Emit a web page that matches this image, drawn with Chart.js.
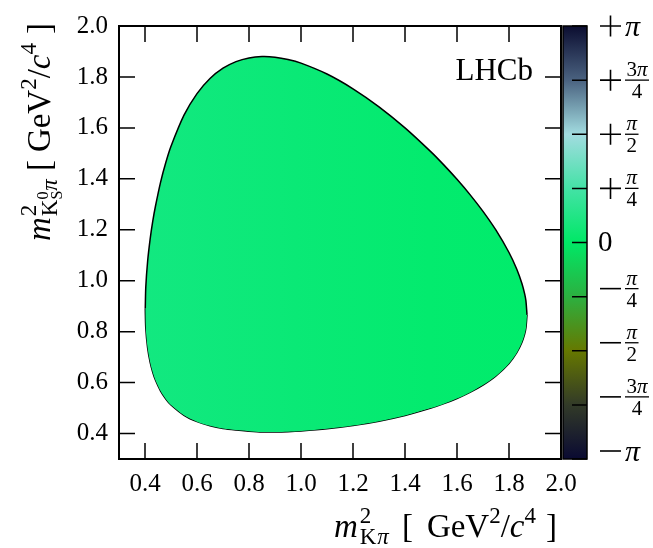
<!DOCTYPE html>
<html>
<head>
<meta charset="utf-8">
<script src="https://cdn.jsdelivr.net/npm/chart.js@4.4.1/dist/chart.umd.min.js"></script>
<style>
  body { margin: 0; background: #fff; }
</style>
</head>
<body>
<canvas id="dalitz" width="653" height="548"></canvas>
<script>
// Dalitz boundary: m2(Kpi) and the upper / lower edge in m2(KSpi)
const mKpi  = [0.4010, 0.4030, 0.4100, 0.4200, 0.4300, 0.4400, 0.4600, 0.4800, 0.5000, 0.5500, 0.6000, 0.6500, 0.7000, 0.7500,
               0.8000, 0.8500, 0.9000, 0.9500, 1.0000, 1.1000, 1.2000, 1.3000, 1.4000, 1.5000, 1.5500, 1.6000, 1.6500,
               1.7000, 1.7500, 1.8000, 1.8300, 1.8500, 1.8600, 1.8650, 1.8693];
const upper = [0.8906, 0.9746, 1.0755, 1.1655, 1.2346, 1.2914, 1.3872, 1.4639, 1.5279, 1.6499, 1.7346, 1.7938, 1.8342, 1.8602,
               1.8747, 1.8800, 1.8776, 1.8687, 1.8543, 1.8116, 1.7536, 1.6827, 1.6001, 1.5058, 1.4538, 1.3981, 1.3380,
               1.2722, 1.1983, 1.1107, 1.0451, 0.9882, 0.9491, 0.9217, 0.8658];
const lower = [0.8906, 0.8136, 0.7364, 0.6784, 0.6395, 0.6100, 0.5666, 0.5356, 0.5120, 0.4717, 0.4467, 0.4304, 0.4196, 0.4135,
               0.4093, 0.4063, 0.4061, 0.4073, 0.4099, 0.4184, 0.4313, 0.4486, 0.4710, 0.4998, 0.5173, 0.5376, 0.5615,
               0.5902, 0.6263, 0.6754, 0.7176, 0.7588, 0.7899, 0.8134, 0.8658];

const xTicks = [0.4, 0.6, 0.8, 1.0, 1.2, 1.4, 1.6, 1.8, 2.0];
const yTicks = [0.4, 0.6, 0.8, 1.0, 1.2, 1.4, 1.6, 1.8, 2.0];

// colour bar: phase in radians
const cbTicks  = [Math.PI, 3 * Math.PI / 4, Math.PI / 2, Math.PI / 4, 0, -Math.PI / 4, -Math.PI / 2, -3 * Math.PI / 4, -Math.PI];
const cbLabels = ['+π', '+3π/4', '+π/2', '+π/4', '0', '−π/4', '−π/2', '−3π/4', '−π'];

const SERIF = '"Liberation Serif", "DejaVu Serif", serif';

function toPoints(ys) {
    return mKpi.map((x, i) => ({ x: x, y: ys[i] }));
}

// draw a run of text pieces (for the little bits of math in the labels)
function runsWidth(ctx, runs) {
    let w = 0;
    runs.forEach(r => {
        ctx.font = r.f;
        if (r.adv !== false) w += ctx.measureText(r.t).width + (r.gap || 0);
    });
    return w;
}
function drawRuns(ctx, runs, x, y) {
    let cx = x;
    runs.forEach(r => {
        ctx.font = r.f;
        ctx.fillText(r.t, cx, y + (r.dy || 0));
        if (r.adv !== false) cx += ctx.measureText(r.t).width + (r.gap || 0);
    });
}

const T = 33, S = 23, S2 = 16, F = 21;
const xTitle = [
    { t: 'm', f: `italic ${T}px ${SERIF}`, gap: 2 },
    { t: '2', f: `${S}px ${SERIF}`, dy: -14, adv: false },
    { t: 'K', f: `${S}px ${SERIF}`, dy: 7, gap: 1 },
    { t: 'π', f: `italic ${S}px ${SERIF}`, dy: 7, gap: 13 },
    { t: '[', f: `${T}px ${SERIF}`, gap: 14 },
    { t: 'GeV', f: `${T}px ${SERIF}` },
    { t: '2', f: `${S}px ${SERIF}`, dy: -14 },
    { t: '/', f: `${T}px ${SERIF}` },
    { t: 'c', f: `italic ${T}px ${SERIF}` },
    { t: '4', f: `${S}px ${SERIF}`, dy: -14, gap: 10 },
    { t: ']', f: `${T}px ${SERIF}` }
];
const yTitle = [
    { t: 'm', f: `italic ${T}px ${SERIF}`, gap: 1 },
    { t: '2', f: `${S}px ${SERIF}`, dy: -14, adv: false },
    { t: 'K', f: `${S}px ${SERIF}`, dy: 7 },
    { t: '0', f: `${S2}px ${SERIF}`, dy: -2, adv: false },
    { t: 'S', f: `${S2}px ${SERIF}`, dy: 12 },
    { t: 'π', f: `italic ${S}px ${SERIF}`, dy: 7, gap: 8 },
    { t: '[', f: `${T}px ${SERIF}`, gap: 8 },
    { t: 'GeV', f: `${T}px ${SERIF}` },
    { t: '2', f: `${S}px ${SERIF}`, dy: -14 },
    { t: '/', f: `${T}px ${SERIF}` },
    { t: 'c', f: `italic ${T}px ${SERIF}` },
    { t: '4', f: `${S}px ${SERIF}`, dy: -14, gap: 9 },
    { t: ']', f: `${T}px ${SERIF}` }
];

function drawCbLabel(ctx, label, x, y) {
    let sign = '';
    let body = label;
    if (label[0] === '+' || label[0] === '−') {
        sign = label[0];
        body = label.slice(1);
    }
    if (sign === '−') y -= 8;
    ctx.fillStyle = '#000';
    ctx.strokeStyle = '#000';
    ctx.lineWidth = 1.6;
    if (sign) {
        ctx.beginPath();
        ctx.moveTo(x + 2, y); ctx.lineTo(x + 23, y);
        if (sign === '+') { ctx.moveTo(x + 12.5, y - 10.5); ctx.lineTo(x + 12.5, y + 10.5); }
        ctx.stroke();
    }
    const bx = x + 27;
    if (body.indexOf('/') >= 0) {
        const parts = body.split('/');
        const numRuns = parts[0].split('').map(ch => ({ t: ch, f: ch === 'π' ? `italic ${F}px ${SERIF}` : `${F}px ${SERIF}` }));
        const nw = runsWidth(ctx, numRuns);
        ctx.font = `${F}px ${SERIF}`;
        const dw = ctx.measureText(parts[1]).width;
        const w = Math.max(nw, dw) + 3;
        ctx.beginPath();
        ctx.lineWidth = 1.3;
        ctx.moveTo(bx, y); ctx.lineTo(bx + w, y);
        ctx.stroke();
        ctx.textBaseline = 'alphabetic';
        drawRuns(ctx, numRuns, bx + (w - nw) / 2, y - 4);
        ctx.font = `${F}px ${SERIF}`;
        ctx.fillText(parts[1], bx + (w - dw) / 2, y + 18);
    } else if (body === 'π') {
        ctx.font = `italic 30px ${SERIF}`;
        ctx.textBaseline = 'middle';
        ctx.fillText('π', bx, y + 2);
    } else {
        ctx.font = `29px ${SERIF}`;
        ctx.textBaseline = 'middle';
        ctx.fillText(body, x, y + 1);
    }
}

const decorations = {
    id: 'decorations',
    afterDraw(chart) {
        const ctx = chart.ctx;
        const a = chart.chartArea;
        const sx = chart.scales.x, sy = chart.scales.y, cb = chart.scales.cb;
        ctx.save();

        // frame and inward ticks
        ctx.strokeStyle = '#000';
        ctx.lineWidth = 2;
        ctx.strokeRect(a.left, a.top, a.right - a.left, a.bottom - a.top);
        ctx.lineWidth = 1.5;
        ctx.beginPath();
        xTicks.forEach(v => {
            const px = sx.getPixelForValue(v);
            ctx.moveTo(px, a.bottom); ctx.lineTo(px, a.bottom - 16);
            ctx.moveTo(px, a.top); ctx.lineTo(px, a.top + 16);
        });
        yTicks.forEach(v => {
            const py = sy.getPixelForValue(v);
            ctx.moveTo(a.left, py); ctx.lineTo(a.left + 16, py);
            ctx.moveTo(a.right, py); ctx.lineTo(a.right - 16, py);
        });
        ctx.stroke();

        // colour bar
        const x0 = cb.left + 2, x1 = cb.right;
        const g = ctx.createLinearGradient(0, cb.top, 0, cb.bottom);
        g.addColorStop(0.000, '#0b0d30');
        g.addColorStop(0.125, '#4a6280');
        g.addColorStop(0.250, '#a2dce0');
        g.addColorStop(0.375, '#44e2a6');
        g.addColorStop(0.500, '#00e866');
        g.addColorStop(0.625, '#2cb040');
        g.addColorStop(0.750, '#667800');
        g.addColorStop(0.875, '#323a28');
        g.addColorStop(1.000, '#0a0a32');
        ctx.fillStyle = g;
        ctx.fillRect(x0, cb.top, x1 - x0, cb.bottom - cb.top);
        ctx.lineWidth = 1.5;
        ctx.strokeRect(x0, cb.top, x1 - x0, cb.bottom - cb.top);
        ctx.beginPath();
        cbTicks.forEach(v => {
            const py = cb.getPixelForValue(v);
            ctx.moveTo(x1, py); ctx.lineTo(x1 - 15, py);
        });
        ctx.stroke();
        cbTicks.forEach((v, i) => {
            drawCbLabel(ctx, cbLabels[i], x1 + 11, cb.getPixelForValue(v));
        });

        // experiment label
        ctx.fillStyle = '#000';
        ctx.font = `31px ${SERIF}`;
        ctx.textAlign = 'right';
        ctx.textBaseline = 'alphabetic';
        ctx.fillText('LHCb', a.right - 28, a.top + 54);
        ctx.textAlign = 'left';

        // axis titles, right-aligned like the original
        const xw = runsWidth(ctx, xTitle);
        drawRuns(ctx, xTitle, a.right - 4 - xw, 537);

        const yw = runsWidth(ctx, yTitle);
        ctx.translate(50, a.top - 3);
        ctx.rotate(-Math.PI / 2);
        drawRuns(ctx, yTitle, -yw, 0);

        ctx.restore();
    }
};

new Chart(
    document.getElementById('dalitz'),
    {
        type: 'line',
        data: {
            datasets: [
                {
                    label: 'upper',
                    data: toPoints(upper),
                    borderColor: '#000',
                    borderWidth: 1.5,
                    pointRadius: 0,
                    tension: 0.3,
                    fill: '+1',
                    backgroundColor: (c) => {
                        const area = c.chart.chartArea;
                        if (!area) return '#08e874';
                        const g = c.chart.ctx.createLinearGradient(area.left, 0, area.right, 0);
                        g.addColorStop(0.0, '#14e882');
                        g.addColorStop(0.4, '#0ae976');
                        g.addColorStop(0.7, '#03eb6e');
                        g.addColorStop(1.0, '#00ec6a');
                        return g;
                    }
                },
                {
                    label: 'lower',
                    data: toPoints(lower),
                    borderColor: '#000',
                    borderWidth: 1.5,
                    pointRadius: 0,
                    tension: 0.3,
                    fill: false
                }
            ]
        },
        options: {
            responsive: false,
            animation: false,
            devicePixelRatio: 1,
            layout: { padding: { top: 18, left: 0, right: 66, bottom: 44 } },
            plugins: {
                legend: { display: false },
                tooltip: { enabled: false }
            },
            scales: {
                x: {
                    type: 'linear',
                    min: 0.3,
                    max: 2.0,
                    grid: { display: false, drawTicks: false },
                    border: { display: false },
                    ticks: {
                        color: '#000',
                        font: { family: SERIF, size: 25 },
                        padding: 10,
                        maxRotation: 0,
                        callback: v => v.toFixed(1)
                    },
                    afterBuildTicks: s => { s.ticks = xTicks.map(v => ({ value: v })); },
                    afterFit: s => { s.height = 45; }
                },
                y: {
                    type: 'linear',
                    min: 0.3,
                    max: 2.0,
                    grid: { display: false, drawTicks: false },
                    border: { display: false },
                    ticks: {
                        color: '#000',
                        font: { family: SERIF, size: 25 },
                        padding: 11,
                        callback: v => v.toFixed(1)
                    },
                    afterBuildTicks: s => { s.ticks = yTicks.map(v => ({ value: v })); },
                    afterFit: s => { s.width = 119; }
                },
                cb: {
                    type: 'linear',
                    position: 'right',
                    min: -Math.PI,
                    max: Math.PI,
                    grid: { display: false, drawTicks: false },
                    border: { display: false },
                    ticks: { display: false },
                    afterFit: s => { s.width = 26; }
                }
            }
        },
        plugins: [decorations]
    }
);
</script>
</body>
</html>
